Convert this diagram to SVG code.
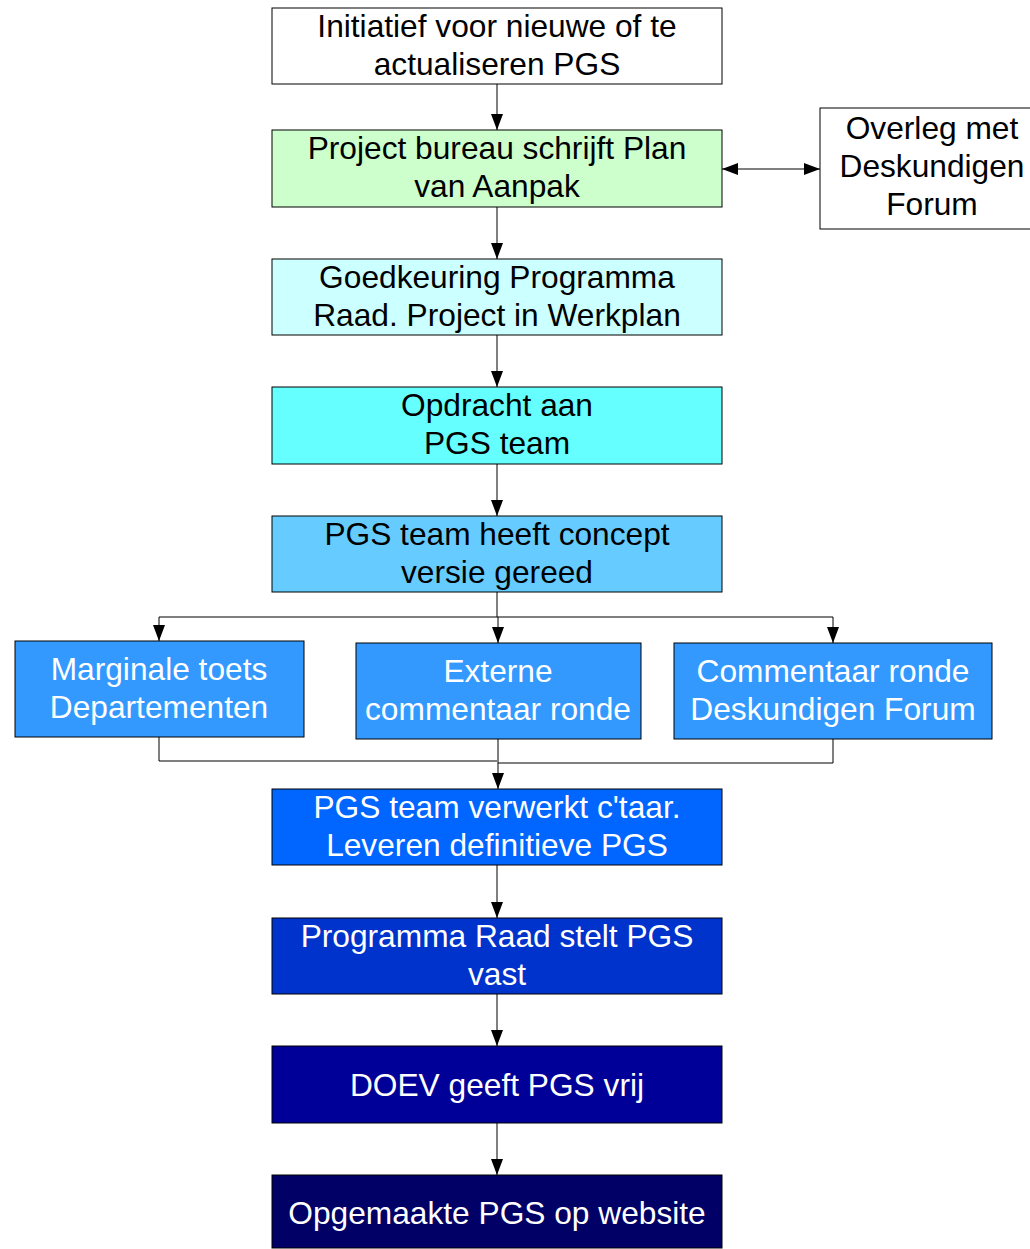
<svg xmlns="http://www.w3.org/2000/svg" width="1030" height="1249" viewBox="0 0 1030 1249">
<defs>
<style>
.b{stroke:#000;stroke-width:1}
.t{font-family:"Liberation Sans",Arial,sans-serif;font-size:31.7px;text-anchor:middle;fill:#000}
.w{fill:#fff}
.c{fill:none;stroke:#000;stroke-width:1}
</style>
<marker id="ah" viewBox="0 0 16 12" refX="16" refY="6" markerWidth="16" markerHeight="12" markerUnits="userSpaceOnUse" orient="auto">
<path d="M0,0 L16,6 L0,12 Z" fill="#000"/>
</marker>
<marker id="as" viewBox="0 0 16 12" refX="0" refY="6" markerWidth="16" markerHeight="12" markerUnits="userSpaceOnUse" orient="auto">
<path d="M16,0 L0,6 L16,12 Z" fill="#000"/>
</marker>
</defs>
<rect width="1030" height="1249" fill="#fff"/>
<g id="connectors">
<path class="c" d="M497,84 V130" marker-end="url(#ah)"/>
<path class="c" d="M722,169 H820" marker-start="url(#as)" marker-end="url(#ah)"/>
<path class="c" d="M497,207 V259" marker-end="url(#ah)"/>
<path class="c" d="M497,335 V387" marker-end="url(#ah)"/>
<path class="c" d="M497,464 V516" marker-end="url(#ah)"/>
<path class="c" d="M497,592 V617"/>
<path class="c" d="M159,617 H833"/>
<path class="c" d="M159,617 V641" marker-end="url(#ah)"/>
<path class="c" d="M498,617 V643" marker-end="url(#ah)"/>
<path class="c" d="M833,617 V643" marker-end="url(#ah)"/>
<path class="c" d="M159,737 V761 H497"/>
<path class="c" d="M833,739 V763 H498"/>
<path class="c" d="M498,739 V789" marker-end="url(#ah)"/>
<path class="c" d="M497,865 V918" marker-end="url(#ah)"/>
<path class="c" d="M497,994 V1046" marker-end="url(#ah)"/>
<path class="c" d="M497,1123 V1175" marker-end="url(#ah)"/>
</g>
<g id="n1"><rect class="b" x="272" y="8" width="450" height="76" fill="#fff"/><text class="t" x="497" y="37">Initiatief voor nieuwe of te</text><text class="t" x="497" y="75">actualiseren PGS</text></g>
<g id="n2"><rect class="b" x="272" y="130" width="450" height="77" fill="#ccffcc"/><text class="t" x="497" y="159">Project bureau schrijft Plan</text><text class="t" x="497" y="197">van Aanpak</text></g>
<g id="n_side"><rect class="b" x="820" y="108" width="215" height="121" fill="#fff"/><text class="t" x="932" y="139">Overleg met</text><text class="t" x="932" y="177">Deskundigen</text><text class="t" x="932" y="215">Forum</text></g>
<g id="n3"><rect class="b" x="272" y="259" width="450" height="76" fill="#ccffff"/><text class="t" x="497" y="288">Goedkeuring Programma</text><text class="t" x="497" y="326">Raad. Project in Werkplan</text></g>
<g id="n4"><rect class="b" x="272" y="387" width="450" height="77" fill="#66ffff"/><text class="t" x="497" y="416">Opdracht aan</text><text class="t" x="497" y="454">PGS team</text></g>
<g id="n5"><rect class="b" x="272" y="516" width="450" height="76" fill="#66ccff"/><text class="t" x="497" y="545">PGS team heeft concept</text><text class="t" x="497" y="583">versie gereed</text></g>
<g id="n6a"><rect class="b" x="15" y="641" width="289" height="96" fill="#3399ff"/><text class="t w" x="159" y="680">Marginale toets</text><text class="t w" x="159" y="718">Departementen</text></g>
<g id="n6b"><rect class="b" x="356" y="643" width="285" height="96" fill="#3399ff"/><text class="t w" x="498" y="682">Externe</text><text class="t w" x="498" y="720">commentaar ronde</text></g>
<g id="n6c"><rect class="b" x="674" y="643" width="318" height="96" fill="#3399ff"/><text class="t w" x="833" y="682">Commentaar ronde</text><text class="t w" x="833" y="720">Deskundigen Forum</text></g>
<g id="n7"><rect class="b" x="272" y="789" width="450" height="76" fill="#0066ff"/><text class="t w" x="497" y="818">PGS team verwerkt c'taar.</text><text class="t w" x="497" y="856">Leveren definitieve PGS</text></g>
<g id="n8"><rect class="b" x="272" y="918" width="450" height="76" fill="#0033cc"/><text class="t w" x="497" y="947">Programma Raad stelt PGS</text><text class="t w" x="497" y="985">vast</text></g>
<g id="n9"><rect class="b" x="272" y="1046" width="450" height="77" fill="#000099"/><text class="t w" x="497" y="1096">DOEV geeft PGS vrij</text></g>
<g id="n10"><rect class="b" x="272" y="1175" width="450" height="73" fill="#000066"/><text class="t w" x="497" y="1224">Opgemaakte PGS op website</text></g>
</svg>
